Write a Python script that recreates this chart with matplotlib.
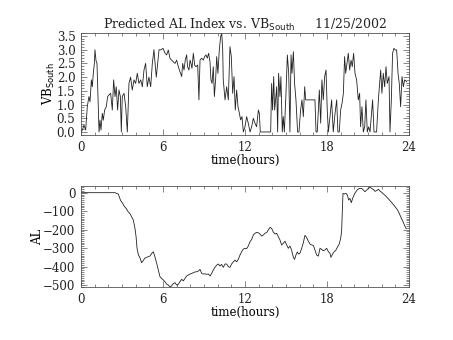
import matplotlib
matplotlib.use('Agg')
import matplotlib.pyplot as plt
from matplotlib.ticker import MultipleLocator, FormatStrFormatter

# solar wind VB south (mV/m) against time of day
vb_time = [0.0, 0.10, 0.22, 0.34, 0.46, 0.58, 0.66, 0.76, 0.83, 0.90, 0.98, 1.02, 1.10, 1.17,
           1.24, 1.32, 1.39, 1.46, 1.56, 1.63, 1.73, 1.85, 1.95, 2.05, 2.17, 2.29, 2.39, 2.49,
           2.58, 2.68, 2.78, 2.88, 2.95, 3.02, 3.15, 3.27, 3.39, 3.51, 3.63, 3.75, 3.88, 4.00,
           4.12, 4.24, 4.37, 4.49, 4.61, 4.73, 4.85, 4.97, 5.10, 5.22, 5.34, 5.41, 5.51, 5.61,
           5.71, 5.83, 6.00, 6.15, 6.27, 6.39, 6.51, 6.63, 6.76, 6.88, 7.00, 7.12, 7.24, 7.37,
           7.44, 7.54, 7.63, 7.73, 7.80, 7.90, 7.98, 8.05, 8.12, 8.22, 8.32, 8.41, 8.54, 8.63,
           8.71, 8.83, 8.95, 9.05, 9.15, 9.24, 9.34, 9.44, 9.51, 9.59, 9.68, 9.76, 9.85, 9.93,
           10.02, 10.12, 10.22, 10.30, 10.37, 10.41, 10.54, 10.66, 10.78, 10.90, 11.00, 11.10,
           11.20, 11.29, 11.39, 11.49, 11.59, 11.68, 11.78, 11.88, 12.00, 12.12, 12.24, 12.37,
           12.49, 12.61, 12.73, 12.85, 12.98, 13.05, 13.12, 13.88, 13.95, 14.02, 14.10, 14.17,
           14.24, 14.32, 14.39, 14.46, 14.56, 14.63, 14.73, 14.80, 14.88, 15.00, 15.10, 15.20,
           15.29, 15.37, 15.44, 15.54, 15.63, 15.73, 15.85, 15.95, 16.07, 16.17, 16.27, 16.37,
           16.44, 17.12, 17.20, 17.29, 17.44, 17.54, 17.63, 17.73, 17.83, 17.93, 18.02, 18.10,
           18.22, 18.34, 18.46, 18.59, 18.71, 18.80, 18.90, 19.00, 19.10, 19.20, 19.29, 19.37,
           19.46, 19.56, 19.66, 19.76, 19.85, 19.95, 20.05, 20.17, 20.29, 20.39, 20.46, 20.56,
           20.66, 20.76, 20.85, 20.95, 21.05, 21.15, 21.34, 21.44, 21.63, 21.76, 21.85, 21.93,
           22.02, 22.12, 22.22, 22.32, 22.41, 22.54, 22.61, 22.71, 22.80, 22.90, 23.00, 23.10,
           23.20, 23.29, 23.39, 23.49, 23.59, 23.68, 23.83]
vb_south = [0.0, 0.07, 0.25, 0.07, 0.92, 1.29, 1.10, 1.90, 1.65, 2.14, 2.50, 3.00, 2.60, 2.50,
            1.29, 0.0, 0.43, 0.07, 0.68, 0.43, 0.80, 0.92, 1.29, 1.35, 1.41, 0.80, 1.90, 1.29,
            1.65, 0.80, 1.53, 1.29, 0.0, 1.29, 1.41, 0.92, 0.0, 1.77, 2.00, 1.53, 1.90, 1.77,
            2.14, 1.77, 1.90, 1.65, 2.26, 2.50, 1.65, 2.00, 1.65, 2.50, 3.00, 2.56, 2.00, 2.50,
            3.00, 2.99, 3.05, 2.87, 2.81, 2.99, 2.69, 2.62, 2.56, 2.50, 2.62, 2.38, 2.20, 2.02,
            2.50, 2.26, 2.62, 2.81, 2.38, 2.26, 2.62, 2.50, 2.32, 2.87, 2.44, 2.38, 2.44, 1.17,
            2.62, 2.69, 2.62, 2.75, 2.81, 2.69, 2.87, 2.56, 1.90, 1.77, 2.38, 1.29, 1.90, 2.75,
            2.14, 2.99, 3.48, 3.60, 2.99, 1.90, 1.17, 1.65, 1.17, 3.11, 2.75, 1.41,
            2.02, 0.80, 1.53, 0.92, 0.68, 0.44, 0.56, 0.0, 0.19, 0.56, 0.32, 0.0,
            0.19, 0.50, 0.32, 0.19, 0.80, 0.68, 0.0, 0.0, 1.77, 0.80, 2.02, 0.80,
            1.17, 1.65, 0.0, 2.14, 1.29, 2.02, 0.0, 0.56, 0.0, 1.41, 2.81, 2.14,
            0.0, 2.81, 2.14, 2.93, 1.77, 1.17, 0.0, 0.0, 0.80, 1.17, 0.56, 1.65,
            1.17, 1.17, 0.0, 0.0, 1.53, 0.32, 1.90, 1.17, 2.02, 2.26, 0.80, 0.0,
            0.56, 1.17, 0.0, 0.68, 1.17, 0.0, 0.0, 0.80, 1.04, 1.41, 2.75, 2.14,
            2.50, 2.87, 2.26, 2.62, 2.38, 2.87, 2.14, 1.90, 1.17, 1.41, 0.19, 0.92,
            0.0, 0.19, 1.17, 0.0, 0.19, 0.0, 1.17, 0.0, 0.0, 1.17, 1.77, 2.26,
            1.41, 2.14, 1.65, 2.38, 1.77, 2.02, 0.0, 1.17, 2.87, 3.05, 2.99, 2.99,
            2.14, 1.77, 0.92, 2.02, 1.65, 1.90, 1.83]

# predicted AL index (nT)
al_time = [0.0, 2.50, 2.60, 2.72, 2.80, 2.90, 3.05, 3.15, 3.30, 3.45, 3.60, 3.70, 3.83, 3.95,
           4.03, 4.10, 4.20, 4.32, 4.44, 4.56, 4.68, 4.80, 4.93, 5.05, 5.17, 5.29, 5.41, 5.54,
           5.66, 5.78, 5.90, 6.02, 6.15, 6.27, 6.39, 6.51, 6.63, 6.76, 6.88, 7.00, 7.12, 7.24,
           7.37, 7.49, 7.61, 7.73, 7.85, 7.98, 8.10, 8.22, 8.34, 8.46, 8.59, 8.71, 8.83, 8.95,
           9.07, 9.20, 9.32, 9.44, 9.56, 9.68, 9.80, 9.93, 10.05, 10.17, 10.29, 10.41, 10.54,
           10.66, 10.78, 10.90, 11.02, 11.15, 11.27, 11.39, 11.51, 11.63, 11.76, 11.88, 12.00,
           12.12, 12.24, 12.37, 12.49, 12.61, 12.73, 12.85, 12.98, 13.10, 13.22, 13.34, 13.46,
           13.59, 13.71, 13.83, 13.95, 14.07, 14.20, 14.32, 14.44, 14.56, 14.68, 14.80, 14.93,
           15.05, 15.17, 15.29, 15.41, 15.54, 15.63, 15.73, 15.83, 15.93, 16.02, 16.15, 16.27,
           16.39, 16.51, 16.63, 16.76, 16.88, 17.00, 17.12, 17.24, 17.37, 17.49, 17.61, 17.73,
           17.85, 17.98, 18.10, 18.22, 18.29, 18.41, 18.54, 18.66, 18.78, 18.90, 19.00, 19.07,
           19.12, 19.17, 19.27, 19.39, 19.49, 19.59, 19.68, 19.78, 19.88, 19.98, 20.07, 20.17,
           20.29, 20.41, 20.54, 20.66, 20.78, 20.90, 21.02, 21.15, 21.27, 21.39, 21.51, 21.63,
           21.76, 21.88, 22.00, 22.15, 22.30, 22.45, 22.60, 22.75, 22.90, 23.05, 23.20, 23.32,
           23.45, 23.58, 23.70, 23.80]
al_index = [0, 0, -4, -7, -22, -43, -58, -72, -85, -103, -115, -130, -148, -193,
            -238, -301, -336, -354, -379, -366, -354, -350, -346, -343, -329, -320, -347, -383,
            -419, -455, -464, -473, -482, -495, -500, -509, -505, -491, -487, -500, -496, -482,
            -469, -477, -464, -451, -446, -440, -437, -433, -429, -428, -424, -415, -437, -440,
            -439, -442, -440, -451, -437, -419, -404, -392, -386, -397, -388, -404, -386,
            -386, -401, -404, -386, -374, -365, -374, -361, -338, -319, -305, -301,
            -303, -289, -265, -253, -229, -220, -215, -217, -224, -235, -229, -220,
            -215, -202, -188, -193, -213, -224, -220, -238, -256, -283, -274, -263,
            -283, -301, -289, -310, -350, -361, -337, -321, -332, -328, -301, -271,
            -231, -242, -262, -278, -283, -285, -310, -337, -343, -301, -307, -314,
            -310, -301, -319, -328, -350, -332, -319, -310, -292, -278, -247, -211,
            -112, -4, -7, -4, -13, -40, -31, -54, -31, -13, 0, 11,
            20, 23, 23, 14, 5, 14, 23, 29, 23, 18, 7, 11,
            18, 9, 2, -8, -18, -30, -42, -55, -68, -82, -98, -118,
            -140, -160, -180, -195]

plt.rcParams['font.family'] = 'DejaVu Serif'
plt.rcParams['font.size'] = 8.5
plt.rcParams['text.color'] = '#222222'
plt.rcParams['xtick.labelcolor'] = '#222222'
plt.rcParams['ytick.labelcolor'] = '#222222'

fig = plt.figure(figsize=(4.53, 3.40), dpi=100)
ax1 = fig.add_axes([0.1788, 0.603, 0.724, 0.300])
ax2 = fig.add_axes([0.1788, 0.155, 0.724, 0.299])

ax1.plot(vb_time, vb_south, color='#222222', linewidth=0.6)
ax1.set_xlim(0, 24)
ax1.set_ylim(-0.11, 3.61)
ax1.yaxis.set_major_locator(MultipleLocator(0.5))
ax1.yaxis.set_minor_locator(MultipleLocator(0.1))
ax1.yaxis.set_major_formatter(FormatStrFormatter('%.1f'))
ax1.set_ylabel('VB$_{\\rm South}$', labelpad=0)
ax1.set_title('Predicted AL Index vs. VB$_{\\rm South}$     11/25/2002',
              fontsize=9, pad=3)

ax2.plot(al_time, al_index, color='#222222', linewidth=0.6)
ax2.set_xlim(0, 24)
ax2.set_ylim(-512, 38)
ax2.yaxis.set_major_locator(MultipleLocator(100))
ax2.yaxis.set_minor_locator(MultipleLocator(10))
ax2.set_ylabel('AL', labelpad=-1)

for ax in (ax1, ax2):
    ax.xaxis.set_major_locator(MultipleLocator(6))
    ax.xaxis.set_minor_locator(MultipleLocator(1))
    ax.set_xlabel('time(hours)', labelpad=0)
    ax.tick_params(which='both', direction='in', top=True, right=True, width=0.5, color='#555555')
    ax.tick_params(which='major', length=4, pad=4)
    ax.tick_params(which='minor', length=2)
    for spine in ax.spines.values():
        spine.set_linewidth(0.6)
        spine.set_color('#555555')

fig.savefig('out.png', dpi=100)
